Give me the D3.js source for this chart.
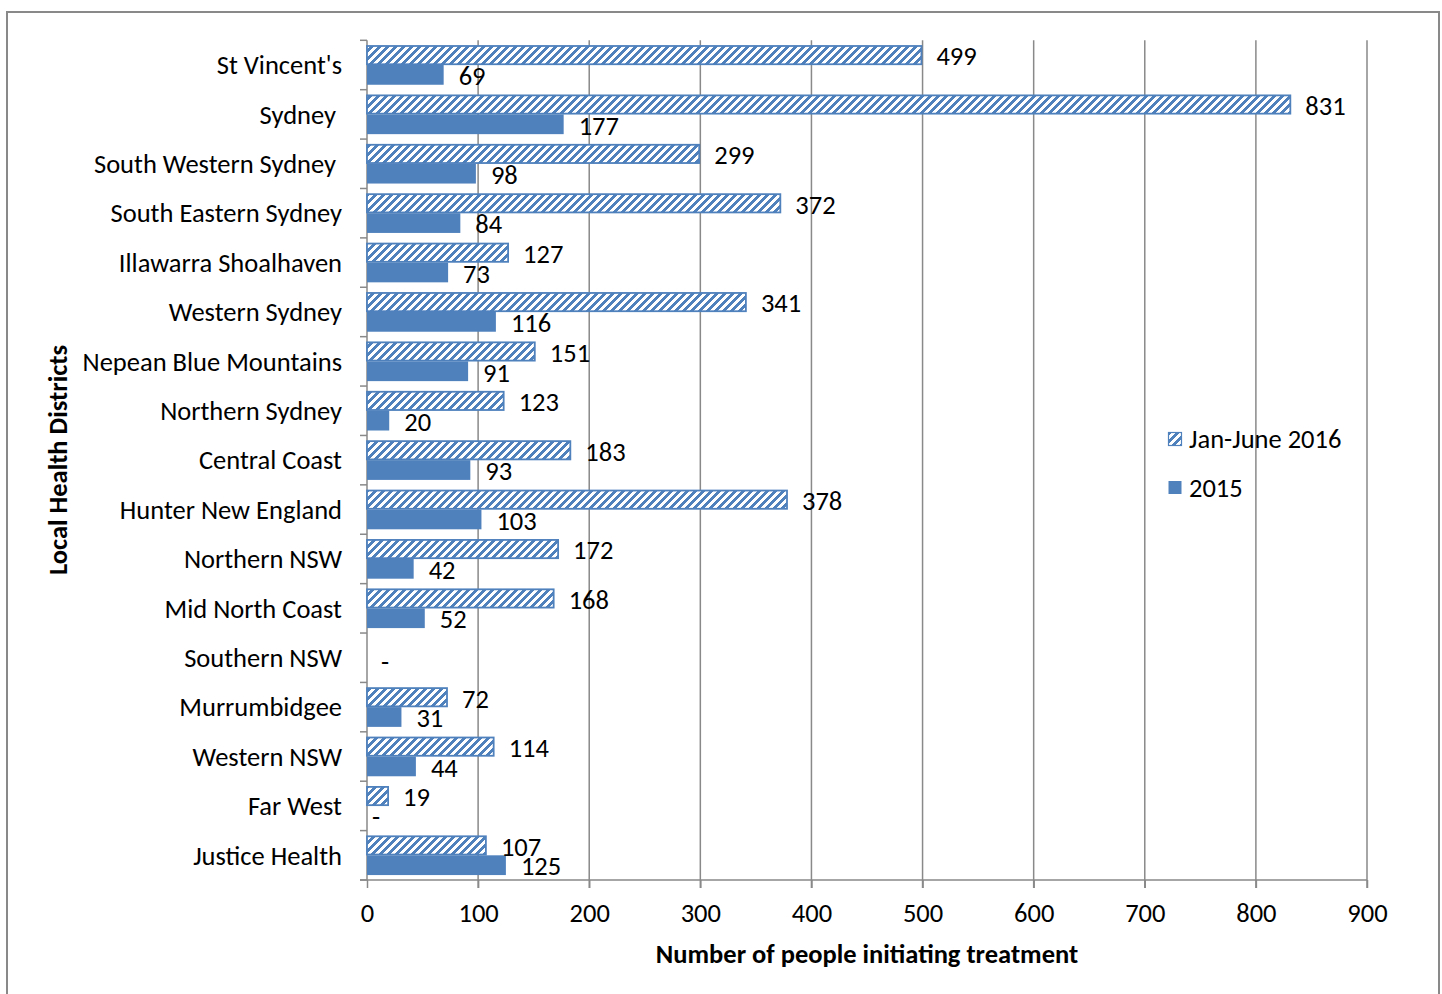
<!DOCTYPE html>
<html>
<head>
<meta charset="utf-8">
<script src="https://cdn.jsdelivr.net/npm/d3@7"></script>
<style>
  html, body { margin: 0; padding: 0; background: #fff; }
  svg { display: block; }
  text { font-family: Carlito, Calibri, Lato, sans-serif; fill: #000; white-space: pre; }
</style>
</head>
<body>
<svg id="chart" width="1442" height="994"></svg>
<script>
const categories = ["St Vincent's", "Sydney ", "South Western Sydney ", "South Eastern Sydney",
  "Illawarra Shoalhaven", "Western Sydney", "Nepean Blue Mountains", "Northern Sydney",
  "Central Coast", "Hunter New England", "Northern NSW", "Mid North Coast", "Southern NSW",
  "Murrumbidgee", "Western NSW", "Far West", "Justice Health"];
const janJune2016 = [499, 831, 299, 372, 127, 341, 151, 123, 183, 378, 172, 168, null, 72, 114, 19, 107];
const year2015 = [69, 177, 98, 84, 73, 116, 91, 20, 93, 103, 42, 52, null, 31, 44, null, 125];
const xTicks = [0, 100, 200, 300, 400, 500, 600, 700, 800, 900];
const seriesNames = ["Jan-June 2016", "2015"];

const blue = "#4F81BD";
const grey = "#898989";
const FS = 26.5;
const svg = d3.select("#chart");

// pixel hatch pattern (wide upward diagonal)
const defs = svg.append("defs");
const P = 8;
const pat = defs.append("pattern").attr("id", "hatch").attr("patternUnits", "userSpaceOnUse")
  .attr("width", P).attr("height", P);
pat.append("rect").attr("width", P).attr("height", P).attr("fill", "#fff");
const cells = d3.cross(d3.range(P), d3.range(P)).filter(([i, j]) => (i + j) % P < 4);
pat.selectAll("rect.c").data(cells).join("rect").attr("class", "c")
  .attr("x", d => d[0]).attr("y", d => d[1]).attr("width", 1).attr("height", 1)
  .attr("fill", blue).attr("shape-rendering", "crispEdges");

// outer border
svg.append("rect").attr("x", 7).attr("y", 12).attr("width", 1432).attr("height", 1000)
  .attr("fill", "none").attr("stroke", grey).attr("stroke-width", 2);

const x = d3.scaleLinear().domain([0, 900]).range([367, 1367]);
const y = d3.scaleBand().domain(categories).range([40.3, 880]);
const bw = y.bandwidth();
const barH = bw * 0.4;
const off = bw * 0.1;

// gridlines
svg.append("g").selectAll("line").data(xTicks.filter(d => d > 0)).join("line")
  .attr("x1", d => x(d)).attr("x2", d => x(d)).attr("y1", 40.3).attr("y2", 888)
  .attr("stroke", grey).attr("stroke-width", 1.5);

// x axis
const xAxis = svg.append("g").attr("transform", "translate(0,880)")
  .call(d3.axisBottom(x).tickValues(xTicks).tickSize(8).tickPadding(15));
xAxis.select(".domain").attr("stroke", grey).attr("stroke-width", 1.5).attr("d", "M360,0H1367");
xAxis.selectAll(".tick line").attr("stroke", grey).attr("stroke-width", 1.5);
xAxis.selectAll(".tick text").attr("font-size", FS).attr("font-family", "Carlito, Calibri, Lato, sans-serif").attr("fill", "#000");

// y axis line + ticks at band boundaries
svg.append("line").attr("x1", 367).attr("x2", 367).attr("y1", 40.3).attr("y2", 880)
  .attr("stroke", grey).attr("stroke-width", 1.5);
const bounds = categories.map(c => y(c)).concat([880]);
svg.append("g").selectAll("line").data(bounds).join("line")
  .attr("x1", 360).attr("x2", 367).attr("y1", d => d).attr("y2", d => d)
  .attr("stroke", grey).attr("stroke-width", 1.5);

// category labels
svg.append("g").selectAll("text").data(categories).join("text")
  .attr("x", 342).attr("y", d => y(d) + bw / 2).attr("dy", "0.35em")
  .attr("text-anchor", "end").attr("font-size", FS).text(d => d);

// bars
const rows = categories.map((c, i) => ({c, a: janJune2016[i], b: year2015[i]}));
svg.append("g").selectAll("rect").data(rows.filter(r => r.a != null)).join("rect")
  .attr("x", x(0)).attr("y", r => y(r.c) + off + 0.75).attr("width", r => x(r.a) - x(0))
  .attr("height", barH - 1.5).attr("fill", "url(#hatch)").attr("stroke", blue).attr("stroke-width", 1.8);
svg.append("g").selectAll("rect").data(rows.filter(r => r.b != null)).join("rect")
  .attr("x", x(0)).attr("y", r => y(r.c) + off + barH).attr("width", r => x(r.b) - x(0))
  .attr("height", barH).attr("fill", blue);

// value labels
const lab = svg.append("g").attr("font-size", FS);
rows.forEach(r => {
  if (r.a == null && r.b == null) {
    lab.append("text").attr("x", x(0) + 14).attr("y", y(r.c) + bw / 2 + 4).attr("dy", "0.35em").text("-");
    return;
  }
  lab.append("text").attr("x", x(r.a) + 15).attr("y", y(r.c) + off + barH / 2 + 1).attr("dy", "0.35em").text(r.a);
  lab.append("text").attr("x", (r.b == null ? x(0) + 5 : x(r.b) + 15)).attr("y", y(r.c) + off + barH * 1.5 + 1)
    .attr("dy", "0.35em").text(r.b == null ? "-" : r.b);
});

// axis titles
svg.append("text").attr("x", 867).attr("y", 954).attr("dy", "0.35em").attr("text-anchor", "middle")
  .attr("font-size", 26.5).attr("font-weight", "bold").text("Number of people initiating treatment");
svg.append("text").attr("transform", "translate(58,460) rotate(-90)").attr("dy", "0.35em")
  .attr("text-anchor", "middle").attr("font-size", 26.5).attr("font-weight", "bold").text("Local Health Districts");

// legend
const leg = svg.append("g");
seriesNames.forEach((s, i) => {
  const ly = 439 + i * 48.5;
  leg.append("rect").attr("x", 1168.5).attr("y", ly - 6.5).attr("width", 13).attr("height", 13)
    .attr("fill", i === 0 ? "url(#hatch)" : blue).attr("stroke", i === 0 ? blue : "none").attr("stroke-width", 1.2);
  leg.append("text").attr("x", 1189).attr("y", ly).attr("dy", "0.35em").attr("font-size", FS).text(s);
});
</script>
</body>
</html>
